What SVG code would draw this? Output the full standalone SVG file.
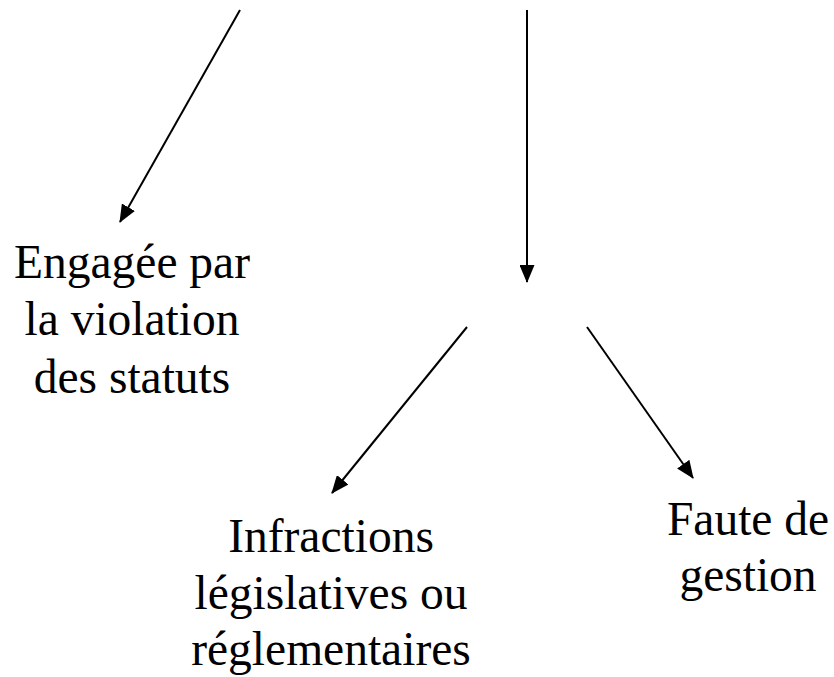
<svg xmlns="http://www.w3.org/2000/svg" width="834" height="677" viewBox="0 0 834 677">
<style>
.lbl{font-family:"Liberation Serif","Times New Roman",serif;font-size:47.5px;fill:#000;text-anchor:middle}
.c{stroke:#000;stroke-width:2;fill:none;marker-end:url(#ah)}
</style>
<defs>
<marker id="ah" markerUnits="userSpaceOnUse" markerWidth="18" markerHeight="15" refX="17" refY="7.5" orient="auto" viewBox="0 0 18 15">
<path d="M0,0 L18,7.5 L0,15 z" fill="#000"/>
</marker>
</defs>
<rect width="834" height="677" fill="#fff"/>
<g id="connectors">
<line class="c" x1="240" y1="10" x2="120" y2="222"/>
<line class="c" x1="527" y1="10" x2="527" y2="282"/>
<line class="c" x1="467" y1="327" x2="332" y2="493"/>
<line class="c" x1="587" y1="327" x2="693" y2="478"/>
</g>
<g id="node-engagee">
<text class="lbl" x="132" y="278">Engagée par</text>
<text class="lbl" x="132" y="335">la violation</text>
<text class="lbl" x="132" y="393">des statuts</text>
</g>
<g id="node-infractions">
<text class="lbl" x="331" y="552">Infractions</text>
<text class="lbl" x="331" y="609">législatives ou</text>
<text class="lbl" x="331" y="665">réglementaires</text>
</g>
<g id="node-faute">
<text class="lbl" x="748" y="535">Faute de</text>
<text class="lbl" x="748" y="591">gestion</text>
</g>
</svg>
